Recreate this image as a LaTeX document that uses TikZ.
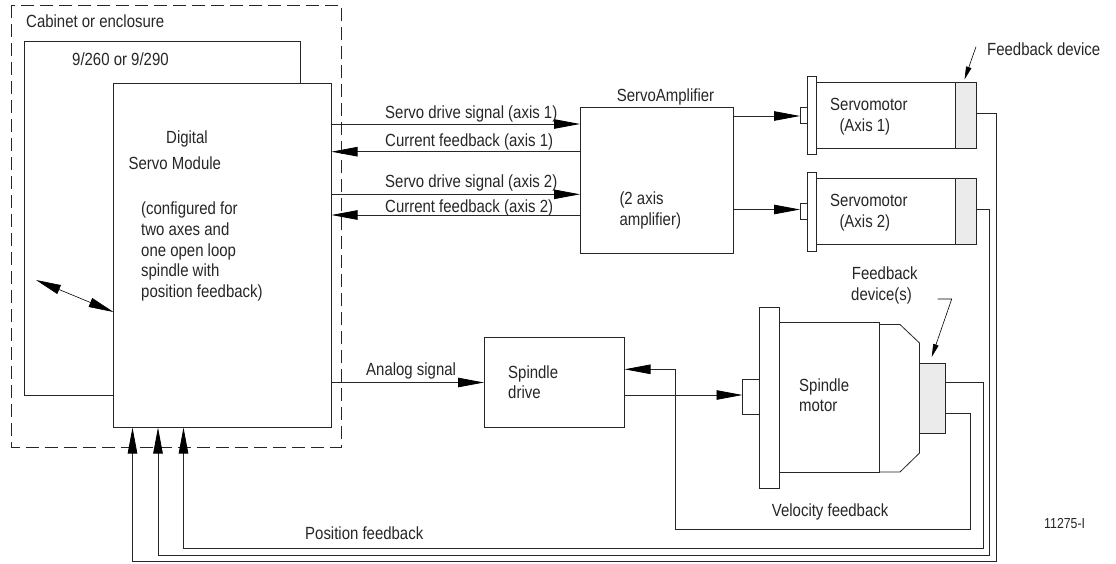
\documentclass[tikz,border=0pt]{standalone}
\usepackage{fontspec}
\setmainfont[FakeStretch=0.85]{Liberation Sans}
\usetikzlibrary{arrows.meta,calc}
\definecolor{devgray}{gray}{0.92}
\tikzset{
  x=1pt,y=-1pt,
  wire/.style={line width=0.8pt,draw=black!85},
  bigarrow/.style={wire,-{Triangle[length=26pt,width=9.5pt,black]}},
  thinarrow/.style={line width=0.6pt,-{Triangle[length=13pt,width=5.5pt,black]}},
  twoarrow/.style={line width=0.6pt,{Triangle[length=25pt,width=9.5pt,black]}-{Triangle[length=25pt,width=9.5pt,black]}},
  boxshape/.style={draw=black!85,line width=0.8pt,fill=white,rectangle,inner sep=0pt,outer sep=0pt,anchor=north west},
  lab/.style={font=\fontsize{17.6pt}{19pt}\selectfont,inner sep=0pt,anchor=base west,text=black!85},
}
\newcommand{\bx}[6][]{\node[boxshape,minimum width=#4pt-#2pt,minimum height=#5pt-#3pt,#1] (#6) at (#2,#3) {};}
\begin{document}
\begin{tikzpicture}
\useasboundingbox (0,0) rectangle (1116,563);
% boxes
\bx{24.5}{41}{300}{395}{cab}
\bx{113.5}{83}{331.5}{427.5}{dsm}
\draw[line width=0.8pt,draw=black!85,dash pattern=on 13pt off 6pt] (11.7,5) rectangle (341,447);
\bx{580}{107.5}{733.7}{253.5}{amp}
\bx{484}{337}{624.5}{427}{drive}
% servomotors
\bx{816.5}{82.5}{976}{148}{mot1}
\bx[fill=devgray]{955}{82.5}{976}{148}{dev1}
\bx{807}{76.5}{816.5}{154.5}{fl1}
\bx{800}{107.5}{807}{123.5}{sh1}
\bx{816.5}{178.7}{976}{244}{mot2}
\bx[fill=devgray]{955}{178.7}{976}{244}{dev2}
\bx{807}{172.5}{816.5}{251}{fl2}
\bx{800}{203}{807}{219}{sh2}
% spindle motor
\coordinate (r1) at (880,324.5);
\coordinate (r2) at (900,324.5);
\coordinate (r3) at (919.5,343);
\coordinate (r4) at (919.5,453);
\coordinate (r5) at (900,472);
\coordinate (r6) at (880,472);
\draw[wire] (r1) -- (r2) -- (r3) -- (r4) -- (r5) -- (r6);
\bx{779}{322}{879.7}{472}{body}
\bx{759}{307}{779}{488}{flsp}
\bx{742.5}{379.5}{759}{414.5}{shsp}
\bx[fill=devgray]{919}{363}{945}{433}{devsp}
% signal arrows
\draw[bigarrow] (dsm.east |- 0,124) -- (amp.west |- 0,124);
\draw[bigarrow] (amp.west |- 0,151.7) -- (dsm.east |- 0,151.7);
\draw[bigarrow] (dsm.east |- 0,194.3) -- (amp.west |- 0,194.3);
\draw[bigarrow] (amp.west |- 0,215) -- (dsm.east |- 0,215);
\draw[bigarrow] (amp.east |- 0,116) -- (sh1.west |- 0,116);
\draw[bigarrow] (amp.east |- 0,209.5) -- (sh2.west |- 0,209.5);
\draw[bigarrow] (dsm.east |- 0,382.5) -- (drive.west |- 0,382.5);
\draw[bigarrow] (drive.east |- 0,395) -- (shsp.west |- 0,395);
% feedback
\draw[bigarrow] (devsp.east |- 0,413) -- (970.7,413) -- (970.7,529) -- (675.7,529) -- (675.7,369.3) -- (drive.east |- 0,369.3);
\draw[bigarrow] (devsp.east |- 0,382.7) -- (983,382.7) -- (983,548.7) -- (183.5,548.7) -- (dsm.south -| 183.5,0);
\draw[bigarrow] (dev2.east |- 0,209.5) -- (989.5,209.5) -- (989.5,555) -- (158,555) -- (dsm.south -| 158,0);
\draw[bigarrow] (dev1.east |- 0,113.5) -- (996,113.5) -- (996,561.7) -- (132.5,561.7) -- (dsm.south -| 132.5,0);
% pointers
\coordinate (p1) at (976,46.7);
\coordinate (p1e) at (964.5,79.5);
\draw[thinarrow] (p1) -- (p1e);
\coordinate (p2) at (937.7,299);
\coordinate (p3) at (951.7,299);
\coordinate (p3e) at (931.7,357);
\draw[thinarrow] (p2) -- (p3) -- (p3e);
\coordinate (p4) at (36,280);
\draw[twoarrow] (p4) -- (dsm.west |- 0,312);
% labels
\node[lab] (t1) at (26,27.5) {Cabinet or enclosure};
\node[lab] (t2) at (72,65) {9/260 or 9/290};
\node[lab] (t3) at (166,143.5) {Digital};
\node[lab] (t4) at (128.5,169.5) {Servo Module};
\node[lab] (t5) at (141,214.5) {(configured for};
\node[lab] (t6) at (141,235.5) {two axes and};
\node[lab] (t7) at (141,256) {one open loop};
\node[lab] (t8) at (141,276.5) {spindle with};
\node[lab] (t9) at (141,297) {position feedback)};
\node[lab] (t10) at (385,118.5) {Servo drive signal (axis 1)};
\node[lab] (t11) at (385,146.5) {Current feedback (axis 1)};
\node[lab] (t12) at (385,187.5) {Servo drive signal (axis 2)};
\node[lab] (t13) at (385,212.5) {Current feedback (axis 2)};
\node[lab] (t14) at (616.7,101.5) {ServoAmplifier};
\node[lab] (t15) at (619.3,204) {(2 axis};
\node[lab] (t16) at (619.3,225) {amplifier)};
\node[lab] (t17) at (830,110.7) {Servomotor};
\node[lab] (t18) at (839.3,131.7) {(Axis 1)};
\node[lab] (t19) at (830,206.7) {Servomotor};
\node[lab] (t20) at (839.3,227.7) {(Axis 2)};
\node[lab] (t21) at (987,55) {Feedback device};
\node[lab] (t22) at (851.7,279) {Feedback};
\node[lab] (t23) at (851,300) {device(s)};
\node[lab] (t24) at (799,391.7) {Spindle};
\node[lab] (t25) at (799,411.7) {motor};
\node[lab] (t26) at (771.7,516.7) {Velocity feedback};
\node[lab] (t27) at (366,375) {Analog signal};
\node[lab] (t28) at (508,378) {Spindle};
\node[lab] (t29) at (508,398) {drive};
\node[lab] (t30) at (305,539) {Position feedback};
\node[lab,font=\fontsize{14.5pt}{16pt}\selectfont] (t31) at (1044,528) {11275-I};
\end{tikzpicture}
\end{document}
